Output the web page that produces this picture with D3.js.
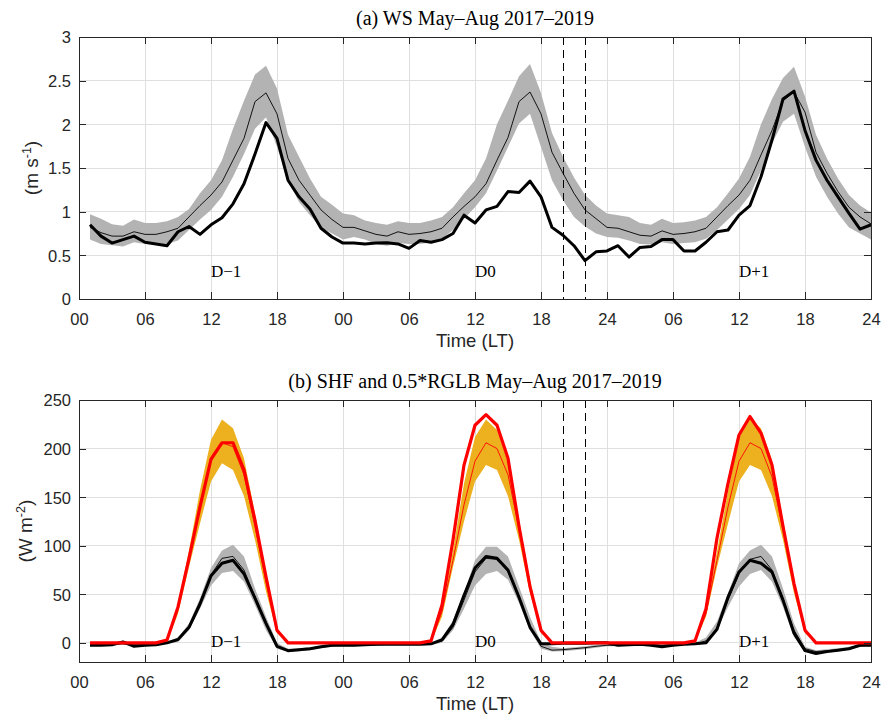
<!DOCTYPE html>
<html>
<head>
<meta charset="utf-8">
<script src="https://cdn.jsdelivr.net/npm/d3@7"></script>
<style>
  html, body { margin: 0; padding: 0; background: #fff; }
  svg { display: block; }
</style>
</head>
<body>
<svg id="chart" width="884" height="719"></svg>
<script>
// ---------------- DATA (hourly, hours 1..72 covering D-1, D0, D+1) ----------------
const hours = d3.range(1, 73);
const xTickValues = [0, 6, 12, 18, 24, 30, 36, 42, 48, 54, 60, 66, 72];
const xTickLabels = ["00","06","12","18","00","06","12","18","24","06","12","18","24"];
const dashedHours = [44, 46];
const dayLabels = ["D\u22121", "D0", "D+1"];
const dayLabelHours = [12, 36, 60];

// Panel (a): wind speed (m s-1)
const wsTicks = [0, 0.5, 1, 1.5, 2, 2.5, 3];
const wsTickLabels = ["0", "0.5", "1", "1.5", "2", "2.5", "3"];
const wsEvent = [
  0.85,0.72,0.64,0.68,0.72,0.65,0.63,0.61,0.77,0.83,0.74,0.85,0.93,1.09,1.32,1.66,2.02,1.84,1.36,1.17,1.03,0.81,0.71,0.64,
  0.64,0.63,0.64,0.645,0.63,0.58,0.67,0.65,0.68,0.75,0.96,0.87,1.02,1.06,1.23,1.22,1.35,1.17,0.82,0.73,0.61,0.44,0.54,0.55,
  0.61,0.48,0.59,0.60,0.68,0.68,0.55,0.55,0.65,0.77,0.79,0.96,1.07,1.40,1.82,2.29,2.38,1.93,1.59,1.36,1.17,0.98,0.80,0.85
];
const wsMean = [
  0.82,0.76,0.72,0.72,0.77,0.74,0.74,0.77,0.81,0.94,1.07,1.19,1.34,1.59,1.84,2.26,2.36,2.12,1.61,1.36,1.19,1.02,0.91,0.82,
  0.82,0.78,0.74,0.72,0.77,0.74,0.75,0.77,0.81,0.94,1.06,1.17,1.32,1.59,1.85,2.26,2.37,2.12,1.68,1.44,1.21,1.02,0.92,0.82,
  0.81,0.77,0.73,0.72,0.78,0.74,0.75,0.77,0.81,0.94,1.07,1.19,1.36,1.65,1.93,2.27,2.37,2.14,1.68,1.44,1.23,1.05,0.94,0.86
];
const wsUpper = [
  0.97,0.92,0.855,0.84,0.91,0.87,0.87,0.89,0.94,1.03,1.21,1.36,1.59,1.95,2.27,2.57,2.67,2.41,1.88,1.63,1.38,1.17,1.08,0.98,
  0.96,0.90,0.87,0.85,0.89,0.87,0.87,0.90,0.94,1.05,1.21,1.36,1.61,2.00,2.27,2.55,2.69,2.36,1.90,1.63,1.39,1.19,1.07,0.98,
  0.96,0.94,0.87,0.85,0.92,0.87,0.88,0.90,0.94,1.05,1.21,1.38,1.63,2.00,2.29,2.53,2.66,2.32,1.88,1.61,1.38,1.19,1.07,0.99
];
const wsLower = [
  0.68,0.63,0.615,0.60,0.65,0.63,0.625,0.63,0.67,0.79,0.91,1.02,1.17,1.40,1.66,1.95,2.08,1.74,1.36,1.11,0.96,0.82,0.75,0.68,
  0.71,0.68,0.63,0.61,0.64,0.63,0.63,0.65,0.69,0.79,0.92,1.05,1.21,1.47,1.74,2.01,2.12,1.74,1.36,1.13,0.94,0.83,0.75,0.71,
  0.70,0.67,0.63,0.625,0.65,0.63,0.64,0.65,0.69,0.79,0.91,1.03,1.19,1.47,1.78,2.03,2.12,1.74,1.40,1.17,0.98,0.82,0.75,0.68
];

// Panel (b): SHF and 0.5*RGLB (W m-2)
const fluxTicks = [0, 50, 100, 150, 200, 250];
const fluxTickLabels = ["0", "50", "100", "150", "200", "250"];
const rglbEvent = [
  0,0,0,0,0,0,0,3,37,87,140,189,206,206,178,126,68,13,0,0,0,0,0,0,
  0,0,0,0,0,0,0,2,39,106,183,224,235,224,190,120,58,13,0,0,0,0,0,0,
  0,0,0,0,0,0,0,2,35,108,164,214,233,216,183,120,61,13,0,0,0,0,0,0
];
const rglbMean = [
  0,0,0,0,0,0,0,2,35,87,140,187,206,202,173,120,63,11,0,0,0,0,0,0,
  0,0,0,0,0,0,0,2,32,85,142,187,206,200,173,118,59,11,0,0,0,0,0,0,
  0,0,0,0,0,0,0,2,30,85,140,187,206,200,171,116,58,11,0,0,0,0,0,0
];
const rglbUpper = [
  0,0,0,0,0,0,0,3,40,95,157,209,230,221,190,133,71,13,0,0,0,0,0,0,
  0,0,0,0,0,0,0,3,35,95,164,212,230,219,187,126,65,13,0,0,0,0,0,0,
  0,0,0,0,0,0,0,3,34,94,156,211,231,221,188,126,65,13,0,0,0,0,0,0
];
const rglbLower = [
  0,0,0,0,0,0,0,1,30,78,123,166,185,178,151,106,53,10,0,0,0,0,0,0,
  0,0,0,0,0,0,0,1,27,78,125,166,183,178,151,106,51,10,0,0,0,0,0,0,
  0,0,0,0,0,0,0,1,27,78,123,166,183,178,151,106,51,10,0,0,0,0,0,0
];
const shfEvent = [
  -2.5,-2.5,-2,1,-3.5,-2.5,-2,0,3.5,16,40,69,82,85,71,46,20,-3.5,-8,-7,-6,-4,-2.5,-2.5,
  -2.5,-2,-1.5,-1.5,-1.5,-1.5,-1.5,-1,3,19,49,77,89,87,75,47,16,-1,-1,-0.5,-0.5,-0.5,0,0,
  -2.5,-2,-1.5,-2.5,-4,-2.5,-1.5,-1,0,14,47,73,85,82,73,44,10,-8,-11,-9,-7.5,-6,-2.5,-2.5
];
const shfMean = [
  -2,-2,-1.5,-1,-2,-2,-1.5,0,3,17,42,70,87,89,75,47,20,-4,-8,-7,-6,-4.5,-3,-2.5,
  -2.5,-2,-2,-1.5,-1.5,-1.5,-1.5,-1,2,16,44,73,87,86,73,46,16,-3.5,-7.5,-7,-6,-5,-3.5,-2.5,
  -2.5,-2,-2,-2,-2.5,-2,-1.5,-1,2,15,44,71,86,89,75,46,13,-6,-9,-8,-7,-5.5,-3,-2.5
];
const shfUpper = [
  -1,-1,-0.5,0,-1,-1,-0.5,1,5.5,20,46,77,95,101,89,56,27,0,-6,-5.5,-4.5,-3.5,-2,-1.5,
  -1.5,-1,-1,-0.5,-0.5,-0.5,-0.5,0,5.5,23,51,85,99,99,89,58,27,1,-4,-5.5,-4.5,-3.5,-2,-1.5,
  -1.5,-1,-1,-1,-1.5,-1,-0.5,0,5.5,22,51,82,95,101,89,56,20,-4,-7.5,-6.5,-5.5,-4,-2,-1.5
];
const shfLower = [
  -3,-3,-2.5,-2,-3,-3,-2.5,-1,1,13,35,59,72,74,63,39,13,-6,-9,-8.5,-7.5,-5.5,-4,-3.5,
  -3.5,-3,-3,-2.5,-2.5,-2.5,-2.5,-2,0,13,35,59,71,74,65,41,13,-6,-9,-8.5,-7.5,-6.5,-5,-3.5,
  -3.5,-3,-3,-3,-3.5,-3,-2.5,-2,0,13,37,58,71,75,63,37,6,-9,-11,-9.5,-8.5,-7,-4,-3.5
];

// ---------------- DRAWING ----------------
const svg = d3.select("#chart");
const axisColor = "#262626";
const gridColor = "#dfdfdf";
const sans = "'Liberation Sans', Arial, Helvetica, sans-serif";
const serif = "'Liberation Serif', 'Times New Roman', serif";

const L = 79, R = 871;
const x = d3.scaleLinear().domain([0, 72]).range([L, R]);

function panel(opts) {
  const { top, bottom, yDomain, yTicks, yTickLabels, title, titleY, yLabel, ySup, yLabelX, labelValue, draw } = opts;
  const y = d3.scaleLinear().domain(yDomain).range([bottom, top]);
  const g = svg.append("g");

  // grid
  g.append("g").attr("shape-rendering", "crispEdges").selectAll("line").data(xTickValues).join("line")
    .attr("x1", d => x(d)).attr("x2", d => x(d)).attr("y1", top).attr("y2", bottom)
    .attr("stroke", gridColor).attr("stroke-width", 1);
  g.append("g").attr("shape-rendering", "crispEdges").selectAll("line").data(yTicks).join("line")
    .attr("x1", L).attr("x2", R).attr("y1", d => y(d)).attr("y2", d => y(d))
    .attr("stroke", gridColor).attr("stroke-width", 1);

  // data
  const clipId = "clip" + top;
  svg.append("clipPath").attr("id", clipId).append("rect")
    .attr("x", L).attr("y", top).attr("width", R - L).attr("height", bottom - top);
  const dg = g.append("g").attr("clip-path", `url(#${clipId})`);
  draw(dg, y);

  // dashed lines
  g.append("g").attr("shape-rendering", "crispEdges").selectAll("line").data(dashedHours).join("line")
    .attr("x1", d => x(d)).attr("x2", d => x(d)).attr("y1", top).attr("y2", bottom)
    .attr("stroke", "#000").attr("stroke-width", 1).attr("stroke-dasharray", "8,5");

  // axes (inside ticks on all four sides)
  const xb = d3.axisBottom(x).tickValues(xTickValues).tickFormat((d, i) => xTickLabels[i]).tickSizeInner(-7).tickSizeOuter(0);
  const xt = d3.axisTop(x).tickValues(xTickValues).tickFormat("").tickSizeInner(-7).tickSizeOuter(0);
  const yl = d3.axisLeft(y).tickValues(yTicks).tickFormat((d, i) => yTickLabels[i]).tickSizeInner(-7).tickSizeOuter(0);
  const yr = d3.axisRight(y).tickValues(yTicks).tickFormat("").tickSizeInner(-7).tickSizeOuter(0);

  const gxb = g.append("g").attr("transform", `translate(0,${bottom})`).call(xb);
  const gxt = g.append("g").attr("transform", `translate(0,${top})`).call(xt);
  const gyl = g.append("g").attr("transform", `translate(${L},0)`).call(yl);
  const gyr = g.append("g").attr("transform", `translate(${R},0)`).call(yr);
  [gxb, gxt, gyl, gyr].forEach(a => {
    a.select(".domain").remove();
    a.selectAll("line").attr("stroke", axisColor).attr("stroke-width", 1).attr("shape-rendering", "crispEdges");
  });
  gxb.selectAll("text").attr("y", 26).attr("dy", 0)
    .attr("fill", axisColor).style("font-family", sans).style("font-size", "16.5px");
  gyl.selectAll("text").attr("x", -8).attr("dy", "0.36em")
    .attr("fill", axisColor).style("font-family", sans).style("font-size", "16.5px");

  // box
  g.append("rect").attr("x", L).attr("y", top).attr("width", R - L).attr("height", bottom - top)
    .attr("fill", "none").attr("stroke", axisColor).attr("stroke-width", 1).attr("shape-rendering", "crispEdges");

  // day labels
  g.append("g").selectAll("text").data(dayLabels).join("text")
    .attr("x", (d, i) => x(dayLabelHours[i])).attr("y", y(labelValue))
    .attr("fill", "#000").style("font-family", serif).style("font-size", "17px")
    .text(d => d);

  // title
  g.append("text").attr("x", (L + R) / 2).attr("y", titleY).attr("text-anchor", "middle")
    .attr("fill", "#000").style("font-family", serif).style("font-size", "20px").text(title);

  // x label
  g.append("text").attr("x", (L + R) / 2).attr("y", bottom + 48).attr("text-anchor", "middle")
    .attr("fill", axisColor).style("font-family", sans).style("font-size", "18.5px").text("Time (LT)");

  // y label
  const cy = (top + bottom) / 2;
  const yt = g.append("text").attr("transform", `translate(${yLabelX},${cy}) rotate(-90)`)
    .attr("text-anchor", "middle").attr("fill", axisColor)
    .style("font-family", sans).style("font-size", "19px");
  yt.append("tspan").text(yLabel);
  yt.append("tspan").attr("dy", -7).style("font-size", "12.5px").text(ySup);
  yt.append("tspan").attr("dy", 7).text(")");
}

const line = (y, arr) => d3.line().x((d, i) => x(hours[i])).y(d => y(d))(arr);
const area = (y, lo, hi) => d3.area().x((d, i) => x(hours[i])).y0((d, i) => y(lo[i])).y1((d, i) => y(hi[i]))(hours);

panel({
  top: 37, bottom: 299, yDomain: [0, 3], yTicks: wsTicks, yTickLabels: wsTickLabels,
  title: "(a) WS May\u2013Aug 2017\u20132019", titleY: 25,
  yLabel: "(m s", ySup: "-1", yLabelX: 38, labelValue: 0.25,
  draw: (g, y) => {
    g.append("path").attr("d", area(y, wsLower, wsUpper)).attr("fill", "#b3b3b3").attr("stroke", "none");
    g.append("path").attr("d", line(y, wsMean)).attr("fill", "none").attr("stroke", "#000").attr("stroke-width", 0.9);
    g.append("path").attr("d", line(y, wsEvent)).attr("fill", "none").attr("stroke", "#000").attr("stroke-width", 3)
      .attr("stroke-linejoin", "round");
  }
});

panel({
  top: 400, bottom: 662.3, yDomain: [-20, 250], yTicks: fluxTicks, yTickLabels: fluxTickLabels,
  title: "(b) SHF and 0.5*RGLB May\u2013Aug 2017\u20132019", titleY: 388,
  yLabel: "(W m", ySup: "-2", yLabelX: 32, labelValue: -4.5,
  draw: (g, y) => {
    g.append("path").attr("d", area(y, rglbLower, rglbUpper)).attr("fill", "#edb120").attr("stroke", "none");
    g.append("path").attr("d", area(y, shfLower, shfUpper)).attr("fill", "#b3b3b3").attr("stroke", "none");
    g.append("path").attr("d", line(y, rglbMean)).attr("fill", "none").attr("stroke", "#ff0000").attr("stroke-width", 0.9);
    g.append("path").attr("d", line(y, shfMean)).attr("fill", "none").attr("stroke", "#000").attr("stroke-width", 0.9);
    g.append("path").attr("d", line(y, shfEvent)).attr("fill", "none").attr("stroke", "#000").attr("stroke-width", 3)
      .attr("stroke-linejoin", "round");
    g.append("path").attr("d", line(y, rglbEvent)).attr("fill", "none").attr("stroke", "#ff0000").attr("stroke-width", 3.2)
      .attr("stroke-linejoin", "round");
  }
});
</script>
</body>
</html>
